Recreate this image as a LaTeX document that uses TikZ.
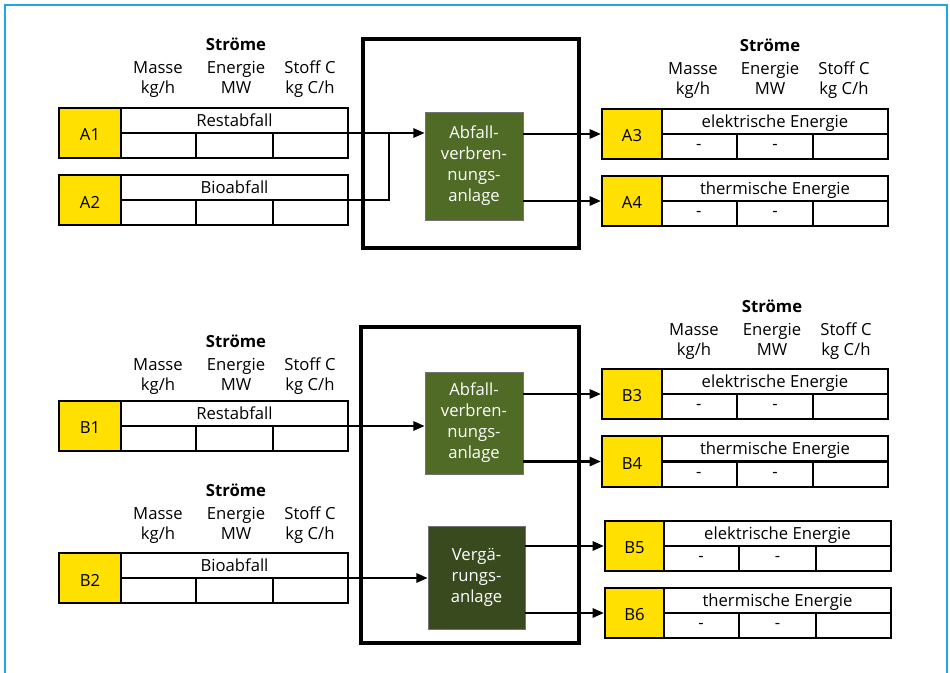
\documentclass[tikz,border=0pt]{standalone}
\usepackage{fontspec}
\setmainfont{Open Sans}
\usetikzlibrary{arrows.meta,fit,calc}
\definecolor{fyellow}{HTML}{FFE000}
\definecolor{gA}{HTML}{4F6B26}
\definecolor{gB}{HTML}{3A4A1F}
\definecolor{fblue}{HTML}{1FA8E0}
\tikzset{
  ybox/.style={draw, line width=1.7pt, fill=fyellow, inner sep=0pt},
  tbox/.style={draw, line width=1.7pt, fill=white, inner sep=0pt},
  cell/.style={line width=1.7pt},
  txt/.style={inner sep=0pt, align=center},
  btxt/.style={inner sep=0pt, align=center, anchor=base},
  bigbox/.style={draw, line width=2.5pt, inner sep=0pt},
  plant/.style={draw=black!55, line width=0.6pt, inner sep=0pt},
  flow/.style={line width=1.6pt},
  arr/.style={line width=1.6pt, -{Triangle[length=8.5pt,width=7pt]}},
}
\newcommand\strm[9]{%
  \node[ybox, fit={(#4,#7) (#5,#8)}, label={[name=#1l, txt, yshift=-1.5pt]center:#2}] (#1) {};
  \node[tbox, fit={(#5,#7) (#6,#8)}] (#1t) {};
  \draw[cell] (#1t.west) -- (#1t.east);
  \draw[cell] ($(#1t.west)!1/3!(#1t.east)$) -- ($(#1t.south west)!1/3!(#1t.south east)$);
  \draw[cell] ($(#1t.west)!2/3!(#1t.east)$) -- ($(#1t.south west)!2/3!(#1t.south east)$);
  \node[btxt] (#1n) at ($(#1t.north)+(0,20)$) {#3};
  \node[txt] (#1a) at ($($(#1t.west)!1/6!(#1t.east)$)!0.5!($(#1t.south west)!1/6!(#1t.south east)$)$) {#9};
  \node[txt] (#1b) at ($($(#1t.west)!1/2!(#1t.east)$)!0.5!($(#1t.south west)!1/2!(#1t.south east)$)$) {#9};
}
\newcommand\hdr[5]{% #1 prefix, #2 x Masse, #3 x Energie, #4 x Stoff, #5 y Ströme (visual centre)
  \node[btxt, font=\fontsize{12.5}{15}\selectfont\bfseries] (#1s) at (#3,#5+6) {Ströme};
  \node[btxt] (#1m) at (#2,#5+49) {Masse\\kg/h};
  \node[btxt] (#1e) at (#3,#5+49) {Energie\\MW};
  \node[btxt] (#1c) at (#4,#5+49) {Stoff C\\kg C/h};
}
\begin{document}
\begin{tikzpicture}[x=0.75pt, y=-0.75pt, font=\fontsize{12.5}{15}\selectfont]
\useasboundingbox (0,0) rectangle (950,672);
\begin{scope}
  \clip (0,0) rectangle (950,672);
  \draw[fblue, line width=1.2pt] (5,5) rectangle (947,700);
\end{scope}

% ---------- Part A ----------
\hdr{hA}{158}{236}{310}{44}
\hdr{hC}{693}{770}{844}{45}
\node[bigbox, fit={(363,39) (579,248)}] (PA) {};
\node[plant, fill=gA, fit={(425,112) (523,220)},
  label={[name=GAl, txt, text=white, font=\fontsize{12.5}{15.7}\selectfont]center:Abfall-\\verbren-\\nungs-\\anlage}] (GA) {};

\strm{A1}{A1}{Restabfall}{59}{121}{348}{108}{158}{}
\strm{A2}{A2}{Bioabfall}{59}{121}{348}{175}{225}{}
\strm{A3}{A3}{elektrische Energie}{602}{662}{888}{109}{159}{-}
\strm{A4}{A4}{thermische Energie}{602}{662}{888}{176}{226}{-}

\coordinate (jx) at (389,0);
\coordinate (jA) at (A1t.east -| jx);
\draw[arr] (A1t.east) -- (A1t.east -| GA.west);
\draw[flow] (A2t.east) -| (jA);
\draw[arr] (GA.east |- A3.west) -- (A3.west);
\draw[arr] (GA.east |- A4.west) -- (A4.west);

% ---------- Part B ----------
\hdr{hB}{158}{236}{310}{341}
\hdr{hD}{158}{236}{310}{490}
\hdr{hE}{694}{772}{846}{306}
\node[bigbox, fit={(361,327) (579,643)}] (PB) {};
\node[plant, fill=gA, fit={(425,372) (523,474)},
  label={[name=GB1l, txt, text=white, font=\fontsize{12.5}{15.7}\selectfont]center:Abfall-\\verbren-\\nungs-\\anlage}] (GB1) {};
\node[plant, fill=gB, fit={(428,526) (525,629)},
  label={[name=GB2l, txt, text=white, font=\fontsize{12.5}{15.7}\selectfont]center:Vergä-\\rungs-\\anlage}] (GB2) {};

\strm{B1}{B1}{Restabfall}{59}{121}{348}{401}{451}{}
\strm{B2}{B2}{Bioabfall}{59}{121}{348}{553}{603}{}
\strm{B3}{B3}{elektrische Energie}{602}{662}{888}{369}{419}{-}
\strm{B4}{B4}{thermische Energie}{602}{662}{888}{436}{487}{-}
\strm{B5}{B5}{elektrische Energie}{605}{664}{891}{521}{571}{-}
\strm{B6}{B6}{thermische Energie}{605}{664}{891}{588}{638}{-}

\draw[arr] (B1t.east) -- (B1t.east -| GB1.west);
\draw[arr] (B2t.east) -- (B2t.east -| GB2.west);
\draw[arr] (GB1.east |- B3.west) -- (B3.west);
\draw[arr] (GB1.east |- B4.west) -- (B4.west);
\draw[arr] (GB2.east |- B5.west) -- (B5.west);
\draw[arr] (GB2.east |- B6.west) -- (B6.west);
\end{tikzpicture}
\end{document}
